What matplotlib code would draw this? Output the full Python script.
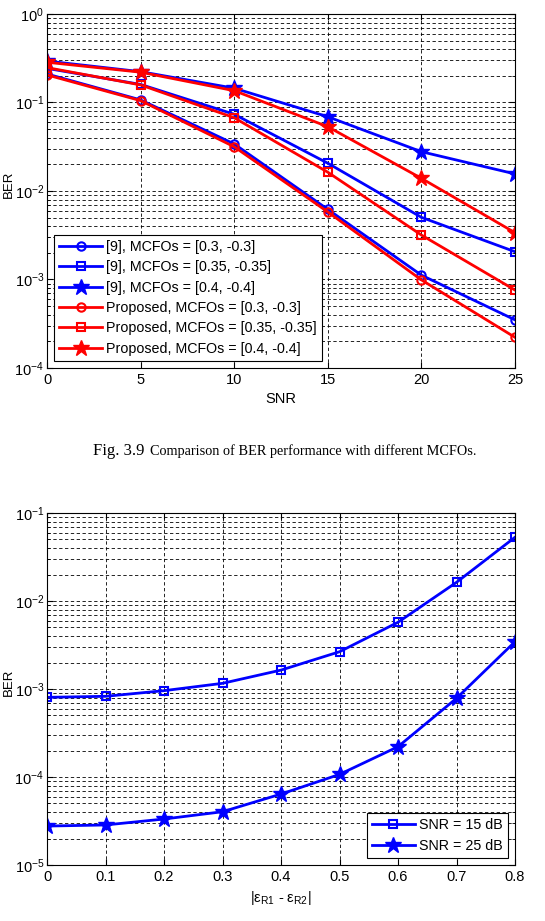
import matplotlib
matplotlib.use('Agg')
import matplotlib.pyplot as plt
from matplotlib.ticker import LogLocator, NullFormatter

plt.rcParams['font.family'] = ['Liberation Sans', 'DejaVu Sans']
plt.rcParams['mathtext.default'] = 'regular'

# Fig. 3.9 data: BER vs SNR
snr = [0, 5, 10, 15, 20, 25]
ref_03 = [0.21, 0.107, 0.034, 0.0062, 0.00112, 0.00035]
ref_035 = [0.243, 0.16, 0.0736, 0.0206, 0.00504, 0.00206]
ref_04 = [0.294, 0.223, 0.145, 0.069, 0.0278, 0.0156]
prop_03 = [0.205, 0.105, 0.0316, 0.0058, 0.00099, 0.000222]
prop_035 = [0.248, 0.158, 0.0673, 0.0163, 0.00318, 0.00076]
prop_04 = [0.285, 0.22, 0.136, 0.0533, 0.0139, 0.00338]
labels_top = ['[9], MCFOs = [0.3, -0.3]', '[9], MCFOs = [0.35, -0.35]',
              '[9], MCFOs = [0.4, -0.4]', 'Proposed, MCFOs = [0.3, -0.3]',
              'Proposed, MCFOs = [0.35, -0.35]', 'Proposed, MCFOs = [0.4, -0.4]']

# second figure: BER vs MCFO difference
eps_diff = [0, 0.1, 0.2, 0.3, 0.4, 0.5, 0.6, 0.7, 0.8]
ber_15 = [0.000804, 0.000826, 0.000957, 0.00116, 0.00164, 0.00265, 0.00573, 0.0163, 0.053]
ber_25 = [2.77e-5, 2.85e-5, 3.33e-5, 4.03e-5, 6.4e-5, 0.000107, 0.000221, 0.000784, 0.00345]
labels_bot = ['SNR = 15 dB', 'SNR = 25 dB']

W, H = 545, 921
fig = plt.figure(figsize=(W / 100, H / 100), dpi=100)


def style_axes(ax):
    ax.set_yscale('log')
    ax.yaxis.set_major_locator(LogLocator(base=10, numticks=10))
    ax.yaxis.set_minor_locator(LogLocator(base=10, subs=range(2, 10), numticks=10))
    ax.yaxis.set_minor_formatter(NullFormatter())
    ax.grid(True, which='major', color='k', ls=(0, (4, 3)), lw=0.6)
    ax.grid(True, which='minor', axis='y', color='k', ls=(0, (4, 3)), lw=0.6)
    ax.tick_params(which='both', direction='in', top=True, right=True, labelsize=10.5)
    ax.tick_params(axis='y', pad=2)
    ax.tick_params(which='major', length=4)
    ax.tick_params(which='minor', length=2)
    for s in ax.spines.values():
        s.set_linewidth(0.8)


leg_kw = dict(fontsize=10.3, fancybox=False, edgecolor='k', framealpha=1,
              handlelength=3.0, borderpad=0.35, labelspacing=0.45,
              handletextpad=0.3, borderaxespad=0.5)

# Top plot
ax1 = fig.add_axes([47 / W, 1 - 368 / H, 468 / W, 354 / H])
style_axes(ax1)
lw = 2
ax1.plot(snr, ref_03, '-o', color='b', lw=lw, ms=6, mfc='none', mew=1.5, label=labels_top[0])
ax1.plot(snr, ref_035, '-s', color='b', lw=lw, ms=6, mfc='none', mew=1.5, label=labels_top[1])
ax1.plot(snr, ref_04, '-*', color='b', lw=lw, ms=12, label=labels_top[2])
ax1.plot(snr, prop_03, '-o', color='r', lw=lw, ms=6, mfc='none', mew=1.5, label=labels_top[3])
ax1.plot(snr, prop_035, '-s', color='r', lw=lw, ms=6, mfc='none', mew=1.5, label=labels_top[4])
ax1.plot(snr, prop_04, '-*', color='r', lw=lw, ms=12, label=labels_top[5])
ax1.set_xlim(0, 25)
ax1.set_ylim(1e-4, 1)
ax1.set_xticks([0, 5, 10, 15, 20, 25])
ax1.set_xlabel('SNR', fontsize=10.5, labelpad=4)
ax1.set_ylabel('BER', fontsize=9.5, labelpad=0)
ax1.yaxis.set_label_coords(-0.068, 0.52)
leg1 = ax1.legend(loc='lower left', **leg_kw)
leg1.get_frame().set_linewidth(0.8)

# Caption
fig.text(93 / W, 1 - 451 / H, 'Fig. 3.9', fontsize=12, family='Liberation Serif', va='center')
fig.text(150 / W, 1 - 451 / H, 'Comparison of BER performance with different MCFOs.',
         fontsize=10.3, family='Liberation Serif', va='center')

# Bottom plot
ax2 = fig.add_axes([47 / W, 1 - 865 / H, 468 / W, 352 / H])
style_axes(ax2)
ax2.plot(eps_diff, ber_15, '-s', color='b', lw=lw, ms=6, mfc='none', mew=1.5, label=labels_bot[0])
ax2.plot(eps_diff, ber_25, '-*', color='b', lw=lw, ms=12, label=labels_bot[1])
ax2.set_xlim(0, 0.8)
ax2.set_ylim(1e-5, 1e-1)
ax2.set_xticks(eps_diff)
ax2.set_xticklabels(['0', '0.1', '0.2', '0.3', '0.4', '0.5', '0.6', '0.7', '0.8'])
ax2.set_xlabel(r'|$\epsilon_{R1}$ - $\epsilon_{R2}$|', fontsize=10.5, labelpad=4)
ax2.set_ylabel('BER', fontsize=9.5, labelpad=0)
ax2.yaxis.set_label_coords(-0.068, 0.52)
leg2 = ax2.legend(loc='lower right', **leg_kw)
leg2.get_frame().set_linewidth(0.8)

fig.savefig('out.png', dpi=100)
